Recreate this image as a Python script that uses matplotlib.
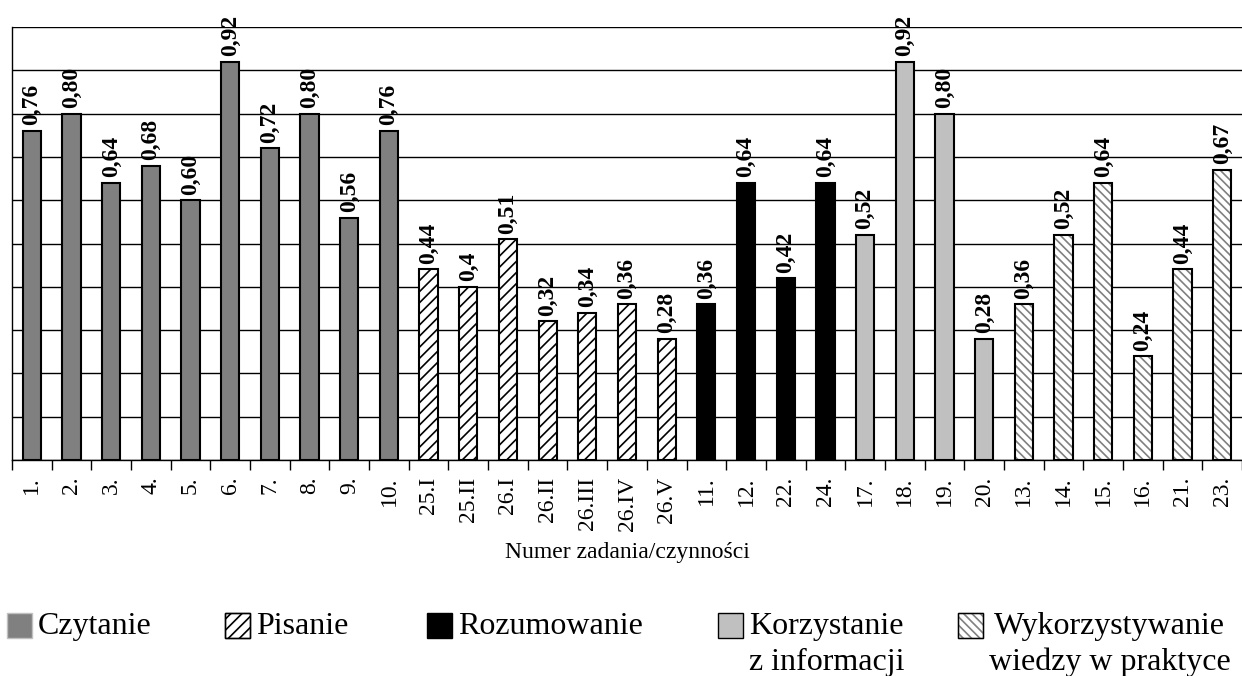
import numpy as np
import matplotlib.pyplot as plt
from matplotlib.patches import Rectangle

plt.rcParams['font.family'] = ['Liberation Serif', 'DejaVu Serif']
plt.rcParams['hatch.linewidth'] = 1.2

# -------------------------------
# Data
# -------------------------------
tasks = ["1.", "2.", "3.", "4.", "5.", "6.", "7.", "8.", "9.", "10.",
         "25.I", "25.II", "26.I", "26.II", "26.III", "26.IV", "26.V",
         "11.", "12.", "22.", "24.",
         "17.", "18.", "19.", "20.",
         "13.", "14.", "15.", "16.", "21.", "23."]
values = [0.76, 0.80, 0.64, 0.68, 0.60, 0.92, 0.72, 0.80, 0.56, 0.76,
          0.44, 0.40, 0.51, 0.32, 0.34, 0.36, 0.28,
          0.36, 0.64, 0.42, 0.64,
          0.52, 0.92, 0.80, 0.28,
          0.36, 0.52, 0.64, 0.24, 0.44, 0.67]
value_labels = ["0,76", "0,80", "0,64", "0,68", "0,60", "0,92", "0,72", "0,80", "0,56", "0,76",
                "0,44", "0,4", "0,51", "0,32", "0,34", "0,36", "0,28",
                "0,36", "0,64", "0,42", "0,64",
                "0,52", "0,92", "0,80", "0,28",
                "0,36", "0,52", "0,64", "0,24", "0,44", "0,67"]
groups = [0] * 10 + [1] * 7 + [2] * 4 + [3] * 4 + [4] * 6
group_names = ["Czytanie", "Pisanie", "Rozumowanie", "Korzystanie\nz informacji",
               "Wykorzystywanie\nwiedzy w praktyce"]

# style per group: face, hatch, hatch colour
styles = [
    dict(face="#808080", hatch=None, hcolor="black", ledge="#c0c0c0"),
    dict(face="white", hatch="///", hcolor="black", ledge="black"),
    dict(face="black", hatch=None, hcolor="black", ledge="black"),
    dict(face="#c0c0c0", hatch=None, hcolor="black", ledge="black"),
    dict(face="white", hatch="\\\\\\\\", hcolor="#808080", ledge="black"),
]

W, H = 1242, 676
fig = plt.figure(figsize=(W / 100, H / 100), dpi=100)
ax = fig.add_axes([12 / W, 1 - 460 / H, 1 - 12 / W, 433 / H])

x = np.arange(len(tasks))
w = 0.46
for g, st in enumerate(styles):
    idx = [i for i in range(len(tasks)) if groups[i] == g]
    xs = x[idx]
    vs = [values[i] for i in idx]
    if st["hatch"]:
        ax.bar(xs, vs, w, color=st["face"], edgecolor=st["hcolor"], hatch=st["hatch"],
               linewidth=0, zorder=3)
        ax.bar(xs, vs, w, fill=False, edgecolor="black", linewidth=1.5, zorder=4)
    else:
        ax.bar(xs, vs, w, color=st["face"], edgecolor="black", linewidth=1.5, zorder=3)

for xi, v, lab in zip(x, values, value_labels):
    ax.annotate(lab, (xi, v), xytext=(0, 4), textcoords="offset points",
                rotation=90, ha="center", va="bottom",
                fontsize=17, fontweight="bold", zorder=5)

ax.set_xlim(-0.5, len(tasks) - 0.5)
ax.set_ylim(0, 1)
ax.set_yticks(np.arange(0, 1.01, 0.1))
ax.set_yticklabels([])
ax.tick_params(axis="y", length=0)
ax.grid(axis="y", color="black", linewidth=1, zorder=0)

ax.set_xticks(x)
ax.set_xticklabels(tasks, rotation=90, fontsize=17)
ax.tick_params(axis="x", which="major", length=0, pad=12)
ax.set_xticks(np.arange(-0.5, len(tasks), 1), minor=True)
ax.tick_params(axis="x", which="minor", length=7, width=1, direction="out")
ax.set_xlabel("Numer zadania/czynności", fontsize=17, labelpad=8)

for s in ["top", "right"]:
    ax.spines[s].set_visible(False)
ax.spines["left"].set_linewidth(1)
ax.spines["bottom"].set_linewidth(1)

# -------------------------------
# Legend (drawn by hand to mimic layout)
# -------------------------------
leg_x = [7, 225, 427, 718, 958]
for g, (lx, name) in enumerate(zip(leg_x, group_names)):
    st = styles[g]
    r = Rectangle((lx / W, 1 - 638 / H), 25 / W, 25 / H, transform=fig.transFigure,
                  facecolor=st["face"], edgecolor=st["ledge"] if not st["hatch"] else st["hcolor"],
                  hatch=st["hatch"], linewidth=1)
    fig.patches.append(r)
    if st["hatch"]:
        fig.patches.append(Rectangle((lx / W, 1 - 638 / H), 25 / W, 25 / H,
                                     transform=fig.transFigure, fill=False,
                                     edgecolor="black", linewidth=1))
    fig.text((lx + 31) / W, 1 - 612 / H, name, fontsize=23, ha="left", va="top",
             multialignment="center", linespacing=1.3)

plt.savefig("out.png", dpi=100)
